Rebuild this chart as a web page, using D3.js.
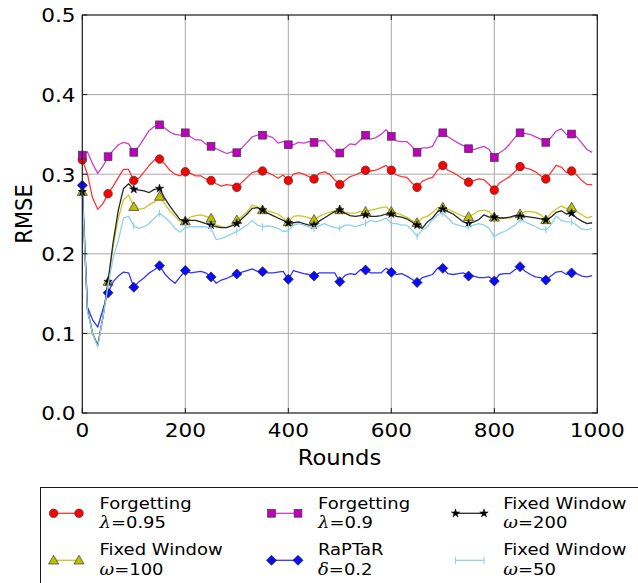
<!DOCTYPE html>
<html>
<head>
<meta charset="utf-8">
<script src="https://cdn.jsdelivr.net/npm/d3@7/dist/d3.min.js"></script>
<style>
  html, body { margin: 0; padding: 0; background: #fff; }
  svg { display: block; font-family: "DejaVu Sans", sans-serif; }
</style>
</head>
<body>
<svg id="chart" width="638" height="583"></svg>
<script>
// Rounds sampled every 10 steps; a marker is placed on every 5th sample.
const rounds = d3.range(0, 1000, 10);
const markEvery = 5;

const forgetting095 = [
  0.318, 0.300, 0.270, 0.256, 0.263, 0.2755, 0.285, 0.296, 0.306, 0.306,
  0.292, 0.295, 0.303, 0.311, 0.318, 0.319, 0.313, 0.305, 0.300, 0.298,
  0.303, 0.301, 0.298, 0.298, 0.294, 0.292, 0.288, 0.285, 0.287, 0.286,
  0.2835, 0.290, 0.296, 0.302, 0.304, 0.304, 0.302, 0.299, 0.295, 0.299,
  0.292, 0.300, 0.302, 0.300, 0.297, 0.294, 0.301, 0.303, 0.300, 0.293,
  0.287, 0.292, 0.297, 0.299, 0.302, 0.305, 0.304, 0.305, 0.308, 0.311,
  0.305, 0.299, 0.297, 0.296, 0.289, 0.2835, 0.291, 0.294, 0.296, 0.305,
  0.311, 0.305, 0.302, 0.298, 0.294, 0.290, 0.292, 0.294, 0.293, 0.287,
  0.280, 0.289, 0.293, 0.297, 0.303, 0.3095, 0.308, 0.306, 0.303, 0.298,
  0.294, 0.302, 0.311, 0.309, 0.302, 0.304, 0.299, 0.292, 0.287, 0.287
];
const forgetting09 = [
  0.324, 0.328, 0.313, 0.301, 0.310, 0.322, 0.330, 0.337, 0.340, 0.338,
  0.3275, 0.335, 0.345, 0.355, 0.360, 0.362, 0.358, 0.353, 0.350, 0.349,
  0.352, 0.347, 0.343, 0.343, 0.338, 0.335, 0.332, 0.329, 0.326, 0.328,
  0.327, 0.333, 0.340, 0.347, 0.349, 0.349, 0.348, 0.346, 0.339, 0.341,
  0.337, 0.337, 0.340, 0.339, 0.341, 0.340, 0.342, 0.342, 0.335, 0.328,
  0.3266, 0.333, 0.338, 0.337, 0.343, 0.349, 0.344, 0.346, 0.350, 0.356,
  0.3476, 0.342, 0.341, 0.341, 0.335, 0.3275, 0.333, 0.333, 0.335, 0.347,
  0.352, 0.347, 0.343, 0.339, 0.336, 0.332, 0.331, 0.333, 0.335, 0.331,
  0.321, 0.327, 0.331, 0.338, 0.346, 0.352, 0.351, 0.350, 0.347, 0.344,
  0.340, 0.346, 0.354, 0.357, 0.350, 0.3505, 0.347, 0.339, 0.331, 0.3275
];
const fixedWindow200 = [
  0.278, 0.130, 0.100, 0.085, 0.120, 0.165, 0.215, 0.255, 0.282, 0.288,
  0.281, 0.280, 0.279, 0.277, 0.281, 0.282, 0.270, 0.260, 0.251, 0.243,
  0.241, 0.242, 0.242, 0.240, 0.238, 0.236, 0.234, 0.233, 0.233, 0.235,
  0.238, 0.244, 0.250, 0.257, 0.258, 0.255, 0.251, 0.248, 0.245, 0.242,
  0.239, 0.239, 0.240, 0.238, 0.236, 0.236, 0.241, 0.245, 0.249, 0.253,
  0.255, 0.251, 0.248, 0.247, 0.248, 0.249, 0.247, 0.247, 0.248, 0.250,
  0.250, 0.247, 0.246, 0.244, 0.240, 0.236, 0.232, 0.240, 0.245, 0.253,
  0.256, 0.253, 0.250, 0.245, 0.240, 0.238, 0.240, 0.243, 0.249, 0.246,
  0.246, 0.245, 0.245, 0.246, 0.248, 0.247, 0.247, 0.246, 0.245, 0.244,
  0.2425, 0.246, 0.252, 0.254, 0.250, 0.251, 0.245, 0.241, 0.238, 0.239
];
const fixedWindow100 = [
  0.278, 0.130, 0.100, 0.085, 0.120, 0.165, 0.210, 0.245, 0.268, 0.274,
  0.259, 0.256, 0.257, 0.262, 0.265, 0.272, 0.263, 0.254, 0.247, 0.241,
  0.241, 0.246, 0.248, 0.249, 0.247, 0.2445, 0.236, 0.234, 0.233, 0.236,
  0.2425, 0.247, 0.253, 0.261, 0.259, 0.255, 0.254, 0.252, 0.250, 0.245,
  0.240, 0.247, 0.248, 0.247, 0.245, 0.243, 0.247, 0.250, 0.252, 0.254,
  0.255, 0.252, 0.251, 0.251, 0.253, 0.253, 0.255, 0.256, 0.258, 0.259,
  0.253, 0.251, 0.249, 0.246, 0.242, 0.239, 0.245, 0.247, 0.252, 0.258,
  0.2584, 0.256, 0.253, 0.250, 0.247, 0.2466, 0.250, 0.254, 0.255, 0.253,
  0.2458, 0.245, 0.245, 0.245, 0.247, 0.250, 0.253, 0.253, 0.252, 0.249,
  0.2425, 0.251, 0.256, 0.260, 0.257, 0.2584, 0.253, 0.249, 0.245, 0.247
];
const raptar = [
  0.286, 0.133, 0.117, 0.108, 0.130, 0.151, 0.165, 0.172, 0.177, 0.176,
  0.158, 0.165, 0.170, 0.176, 0.180, 0.185, 0.175, 0.168, 0.163, 0.171,
  0.179, 0.176, 0.177, 0.178, 0.176, 0.171, 0.163, 0.167, 0.169, 0.172,
  0.1746, 0.177, 0.179, 0.181, 0.178, 0.1775, 0.176, 0.176, 0.177, 0.178,
  0.168, 0.179, 0.177, 0.175, 0.174, 0.172, 0.176, 0.176, 0.176, 0.176,
  0.165, 0.173, 0.175, 0.174, 0.180, 0.1796, 0.176, 0.176, 0.176, 0.182,
  0.1767, 0.174, 0.175, 0.172, 0.168, 0.164, 0.170, 0.172, 0.174, 0.182,
  0.1817, 0.175, 0.174, 0.175, 0.176, 0.172, 0.172, 0.170, 0.170, 0.171,
  0.1658, 0.174, 0.175, 0.175, 0.180, 0.1838, 0.178, 0.174, 0.171, 0.170,
  0.167, 0.172, 0.177, 0.178, 0.174, 0.176, 0.175, 0.172, 0.171, 0.1725
];
const fixedWindow50 = [
  0.278, 0.128, 0.100, 0.083, 0.120, 0.160, 0.195, 0.217, 0.245, 0.247,
  0.235, 0.232, 0.234, 0.238, 0.245, 0.251, 0.246, 0.240, 0.232, 0.227,
  0.233, 0.234, 0.234, 0.234, 0.234, 0.232, 0.218, 0.219, 0.222, 0.225,
  0.228, 0.232, 0.236, 0.242, 0.236, 0.234, 0.235, 0.234, 0.232, 0.228,
  0.229, 0.236, 0.238, 0.236, 0.234, 0.232, 0.235, 0.238, 0.235, 0.233,
  0.232, 0.236, 0.236, 0.234, 0.236, 0.238, 0.242, 0.240, 0.242, 0.245,
  0.238, 0.238, 0.236, 0.236, 0.230, 0.222, 0.230, 0.234, 0.2425, 0.249,
  0.251, 0.245, 0.238, 0.236, 0.234, 0.234, 0.236, 0.238, 0.236, 0.232,
  0.2215, 0.2257, 0.228, 0.232, 0.236, 0.2425, 0.240, 0.237, 0.234, 0.231,
  0.230, 0.236, 0.2475, 0.242, 0.240, 0.240, 0.236, 0.231, 0.230, 0.232
];

const xTicks = [0, 200, 400, 600, 800, 1000];
const yTicks = [0.0, 0.1, 0.2, 0.3, 0.4, 0.5];
const yTickLabels = ["0.0", "0.1", "0.2", "0.3", "0.4", "0.5"];

// Legend entries: name line, symbol, value line
const legendNames = ["Forgetting", "Fixed Window", "Forgetting", "RaPTaR", "Fixed Window", "Fixed Window"];
const legendSymbols = ["λ", "ω", "λ", "δ", "ω", "ω"];
const legendValues = ["=0.95", "=100", "=0.9", "=0.2", "=200", "=50"];

const seriesValues = [forgetting095, fixedWindow100, forgetting09, raptar, fixedWindow200, fixedWindow50];
const seriesStyle = [
  { line: "#ff3535", fill: "#ff0000", marker: "circle" },
  { line: "#c8c820", fill: "#bfbf00", marker: "triangle" },
  { line: "#cc3ecc", fill: "#bf00bf", marker: "square" },
  { line: "#3434ff", fill: "#0a0aff", marker: "diamond" },
  { line: "#262626", fill: "#000000", marker: "star" },
  { line: "#8fd1ee", fill: "#87ceeb", marker: "vline" }
];

const SX = 1.08;      // horizontal text stretch for axis text
const SX_LEG = 1.09;  // horizontal text stretch for legend text
const svg = d3.select("#chart");

const x = d3.scaleLinear().domain([0, 1000]).range([82.3, 597.3]);
const y = d3.scaleLinear().domain([0, 0.5]).range([413, 15]);

function addText(parent, px, py, str, size, anchor, extra, sx) {
  const g = parent.append("g").attr("transform", `translate(${px},${py}) scale(${sx || SX},1)`);
  const t = g.append("text").attr("font-size", size).attr("text-anchor", anchor || "start").attr("fill", "#000");
  if (extra) extra(t); else t.text(str);
  return t;
}

// grid
const grid = svg.append("g");
grid.selectAll(".gx").data(xTicks.slice(1, -1)).join("line")
  .attr("x1", d => x(d)).attr("x2", d => x(d)).attr("y1", y(0)).attr("y2", y(0.5))
  .attr("stroke", "#a8a8a8").attr("stroke-width", 1);
grid.selectAll(".gy").data(yTicks.slice(1, -1)).join("line")
  .attr("x1", x(0)).attr("x2", x(1000)).attr("y1", d => y(d)).attr("y2", d => y(d))
  .attr("stroke", "#a8a8a8").attr("stroke-width", 1);

// markers
function drawMarker(sel, type, fill, cx, cy, scale) {
  const s = scale || 1;
  if (type === "circle") {
    sel.append("circle").attr("cx", cx).attr("cy", cy).attr("r", 4.3 * s)
      .attr("fill", fill).attr("stroke", "#3a3a3a").attr("stroke-width", 0.7);
  } else if (type === "square") {
    const h = 3.9 * s;
    sel.append("rect").attr("x", cx - h).attr("y", cy - h).attr("width", 2 * h).attr("height", 2 * h)
      .attr("fill", fill).attr("stroke", "#3a3a3a").attr("stroke-width", 0.7);
  } else if (type === "triangle") {
    sel.append("path").attr("d", d3.symbol(d3.symbolTriangle, 44 * s * s)())
      .attr("transform", `translate(${cx},${cy + 0.8})`)
      .attr("fill", fill).attr("stroke", "#3a3a3a").attr("stroke-width", 0.7);
  } else if (type === "diamond") {
    sel.append("path").attr("d", d3.symbol(d3.symbolSquare, 50 * s * s)())
      .attr("transform", `translate(${cx},${cy}) rotate(45)`)
      .attr("fill", fill).attr("stroke", "#2a2a2a").attr("stroke-width", 0.7);
  } else if (type === "star") {
    sel.append("path").attr("d", d3.symbol(d3.symbolStar, 22 * s * s)())
      .attr("transform", `translate(${cx},${cy})`)
      .attr("fill", fill).attr("stroke", "#000").attr("stroke-width", 0.5);
  } else if (type === "vline") {
    sel.append("line").attr("x1", cx).attr("x2", cx).attr("y1", cy - 3.5 * s).attr("y2", cy + 3.5 * s)
      .attr("stroke", fill).attr("stroke-width", 1);
  }
}

const plot = svg.append("g");
const lineGen = d3.line().x((d, i) => x(rounds[i])).y(d => y(d));
seriesValues.forEach((vals, k) => {
  const st = seriesStyle[k];
  const g = plot.append("g");
  g.append("path").attr("d", lineGen(vals)).attr("fill", "none")
    .attr("stroke", st.line).attr("stroke-width", 1.3).attr("stroke-linejoin", "round");
  vals.forEach((v, i) => {
    if (i % markEvery === 0) drawMarker(g, st.marker, st.fill, x(rounds[i]), y(v));
  });
});

// frame
svg.append("rect").attr("x", x(0)).attr("y", y(0.5)).attr("width", x(1000) - x(0)).attr("height", y(0) - y(0.5))
  .attr("fill", "none").attr("stroke", "#1a1a1a").attr("stroke-width", 1.2);

// inward ticks on all sides
const ticks = svg.append("g").attr("stroke", "#1a1a1a").attr("stroke-width", 1);
xTicks.forEach(t => {
  ticks.append("line").attr("x1", x(t)).attr("x2", x(t)).attr("y1", y(0)).attr("y2", y(0) - 5);
  ticks.append("line").attr("x1", x(t)).attr("x2", x(t)).attr("y1", y(0.5)).attr("y2", y(0.5) + 5);
});
yTicks.forEach(t => {
  ticks.append("line").attr("x1", x(0)).attr("x2", x(0) + 5).attr("y1", y(t)).attr("y2", y(t));
  ticks.append("line").attr("x1", x(1000)).attr("x2", x(1000) - 5).attr("y1", y(t)).attr("y2", y(t));
});

// tick labels
const labels = svg.append("g");
xTicks.forEach(t => addText(labels, x(t), 437, String(t), 20, "middle"));
yTicks.forEach((t, i) => addText(labels, 75.5, y(t) + 7.3, yTickLabels[i], 20, "end"));

// axis titles
addText(labels, 339.5, 465, "Rounds", 21, "middle");
labels.append("g").attr("transform", `translate(32,214) scale(${SX},1) rotate(-90)`)
  .append("text").attr("font-size", 21).attr("text-anchor", "middle").text("RMSE");

// legend
const leg = svg.append("g");
leg.append("rect").attr("x", 40.5).attr("y", 487.5).attr("width", 640).attr("height", 140)
  .attr("fill", "#fff").attr("stroke", "#1a1a1a").attr("stroke-width", 1);

const colHandle = [[53.6, 79], [271.5, 298], [455.5, 484]];
const colText = [99.5, 318, 503.3];
const rowHandleY = [513.3, 560.3];
const rowBase = [[508.6, 528.2], [555.4, 575]];

seriesValues.forEach((vals, k) => {
  const col = Math.floor(k / 2), row = k % 2;
  const st = seriesStyle[k];
  const [hx1, hx2] = colHandle[col];
  const hy = rowHandleY[row];
  leg.append("line").attr("x1", hx1).attr("x2", hx2).attr("y1", hy).attr("y2", hy)
    .attr("stroke", st.line).attr("stroke-width", 1.3);
  drawMarker(leg, st.marker, st.fill, hx1, hy);
  drawMarker(leg, st.marker, st.fill, hx2, hy);
  addText(leg, colText[col], rowBase[row][0], legendNames[k], 16.5, "start", null, SX_LEG);
  addText(leg, colText[col], rowBase[row][1], null, 16.5, "start", t => {
    t.append("tspan").attr("font-style", "italic").attr("font-family", "DejaVu Serif").text(legendSymbols[k]);
    t.append("tspan").text(legendValues[k]);
  }, SX_LEG);
});
</script>
</body>
</html>
